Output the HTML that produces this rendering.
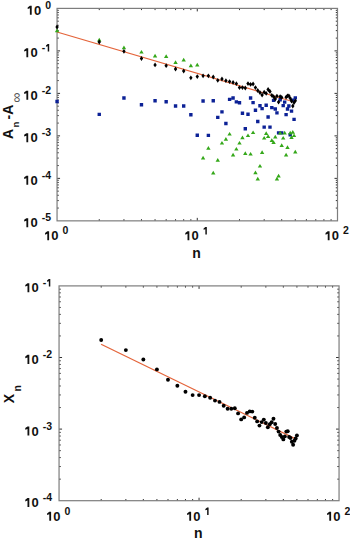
<!DOCTYPE html><html><head><meta charset="utf-8"><style>html,body{margin:0;padding:0;background:#fff}svg{display:block}</style></head><body><svg width="350" height="541" viewBox="0 0 350 541">
<style>.tl{font:bold 13px "Liberation Sans",sans-serif;fill:#111}.sp{font-size:10.5px}.al{font:bold 14px "Liberation Sans",sans-serif;fill:#111}</style>
<rect width="350" height="541" fill="#fff"/>
<path d="M99.26 220.85v-1.7M99.26 8.40v1.7M123.95 220.85v-1.7M123.95 8.40v1.7M141.47 220.85v-1.7M141.47 8.40v1.7M155.06 220.85v-1.7M155.06 8.40v1.7M166.17 220.85v-1.7M166.17 8.40v1.7M175.55 220.85v-1.7M175.55 8.40v1.7M183.69 220.85v-1.7M183.69 8.40v1.7M190.86 220.85v-1.7M190.86 8.40v1.7M197.27 220.85v-3.0M197.27 8.40v3.0M239.49 220.85v-1.7M239.49 8.40v1.7M264.18 220.85v-1.7M264.18 8.40v1.7M281.70 220.85v-1.7M281.70 8.40v1.7M295.29 220.85v-1.7M295.29 8.40v1.7M306.39 220.85v-1.7M306.39 8.40v1.7M315.78 220.85v-1.7M315.78 8.40v1.7M323.91 220.85v-1.7M323.91 8.40v1.7M331.08 220.85v-1.7M331.08 8.40v1.7M57.05 208.06h1.7M337.50 208.06h-1.7M57.05 200.58h1.7M337.50 200.58h-1.7M57.05 195.27h1.7M337.50 195.27h-1.7M57.05 191.15h1.7M337.50 191.15h-1.7M57.05 187.79h1.7M337.50 187.79h-1.7M57.05 184.94h1.7M337.50 184.94h-1.7M57.05 182.48h1.7M337.50 182.48h-1.7M57.05 180.30h1.7M337.50 180.30h-1.7M57.05 178.36h3.0M337.50 178.36h-3.0M57.05 165.57h1.7M337.50 165.57h-1.7M57.05 158.09h1.7M337.50 158.09h-1.7M57.05 152.78h1.7M337.50 152.78h-1.7M57.05 148.66h1.7M337.50 148.66h-1.7M57.05 145.30h1.7M337.50 145.30h-1.7M57.05 142.45h1.7M337.50 142.45h-1.7M57.05 139.99h1.7M337.50 139.99h-1.7M57.05 137.81h1.7M337.50 137.81h-1.7M57.05 135.87h3.0M337.50 135.87h-3.0M57.05 123.08h1.7M337.50 123.08h-1.7M57.05 115.60h1.7M337.50 115.60h-1.7M57.05 110.29h1.7M337.50 110.29h-1.7M57.05 106.17h1.7M337.50 106.17h-1.7M57.05 102.81h1.7M337.50 102.81h-1.7M57.05 99.96h1.7M337.50 99.96h-1.7M57.05 97.50h1.7M337.50 97.50h-1.7M57.05 95.32h1.7M337.50 95.32h-1.7M57.05 93.38h3.0M337.50 93.38h-3.0M57.05 80.59h1.7M337.50 80.59h-1.7M57.05 73.11h1.7M337.50 73.11h-1.7M57.05 67.80h1.7M337.50 67.80h-1.7M57.05 63.68h1.7M337.50 63.68h-1.7M57.05 60.32h1.7M337.50 60.32h-1.7M57.05 57.47h1.7M337.50 57.47h-1.7M57.05 55.01h1.7M337.50 55.01h-1.7M57.05 52.83h1.7M337.50 52.83h-1.7M57.05 50.89h3.0M337.50 50.89h-3.0M57.05 38.10h1.7M337.50 38.10h-1.7M57.05 30.62h1.7M337.50 30.62h-1.7M57.05 25.31h1.7M337.50 25.31h-1.7M57.05 21.19h1.7M337.50 21.19h-1.7M57.05 17.83h1.7M337.50 17.83h-1.7M57.05 14.98h1.7M337.50 14.98h-1.7M57.05 12.52h1.7M337.50 12.52h-1.7M57.05 10.34h1.7M337.50 10.34h-1.7" stroke="#333" stroke-width="1.0" fill="none"/>
<rect x="57.05" y="8.4" width="280.45" height="212.45" fill="none" stroke="#7d7d7d" stroke-width="1.2"/>
<path d="M57.0 32.0L290.00 100.73" stroke="#e4643a" stroke-width="1.25" fill="none"/>
<path d="M55.35 99.80h3.4v3.4h-3.4zM97.56 112.70h3.4v3.4h-3.4zM122.25 96.30h3.4v3.4h-3.4zM139.77 103.00h3.4v3.4h-3.4zM153.36 99.10h3.4v3.4h-3.4zM164.47 100.00h3.4v3.4h-3.4zM173.85 104.30h3.4v3.4h-3.4zM181.99 104.30h3.4v3.4h-3.4zM189.16 113.00h3.4v3.4h-3.4zM195.57 133.60h3.4v3.4h-3.4zM201.38 99.30h3.4v3.4h-3.4zM206.68 133.70h3.4v3.4h-3.4zM211.55 99.00h3.4v3.4h-3.4zM216.07 115.70h3.4v3.4h-3.4zM220.27 110.20h3.4v3.4h-3.4zM224.20 121.80h3.4v3.4h-3.4zM227.89 97.70h3.4v3.4h-3.4zM231.37 96.30h3.4v3.4h-3.4zM234.66 100.20h3.4v3.4h-3.4zM237.79 101.10h3.4v3.4h-3.4zM240.76 111.60h3.4v3.4h-3.4zM243.59 127.10h3.4v3.4h-3.4zM246.30 112.50h3.4v3.4h-3.4zM248.89 96.30h3.4v3.4h-3.4zM251.38 100.90h3.4v3.4h-3.4zM253.76 108.50h3.4v3.4h-3.4zM256.06 119.80h3.4v3.4h-3.4zM258.28 104.00h3.4v3.4h-3.4zM260.41 106.90h3.4v3.4h-3.4zM262.48 125.40h3.4v3.4h-3.4zM264.48 103.50h3.4v3.4h-3.4zM266.41 115.30h3.4v3.4h-3.4zM268.28 125.40h3.4v3.4h-3.4zM270.10 105.90h3.4v3.4h-3.4zM271.87 98.70h3.4v3.4h-3.4zM273.58 107.30h3.4v3.4h-3.4zM275.25 111.20h3.4v3.4h-3.4zM276.88 131.20h3.4v3.4h-3.4zM278.46 98.10h3.4v3.4h-3.4zM280.00 131.20h3.4v3.4h-3.4zM281.50 103.90h3.4v3.4h-3.4zM282.97 100.40h3.4v3.4h-3.4zM284.40 112.90h3.4v3.4h-3.4zM285.80 107.30h3.4v3.4h-3.4zM287.17 104.30h3.4v3.4h-3.4zM288.51 133.10h3.4v3.4h-3.4zM289.82 109.40h3.4v3.4h-3.4zM291.10 98.40h3.4v3.4h-3.4zM292.36 117.70h3.4v3.4h-3.4zM293.59 96.20h3.4v3.4h-3.4z" fill="#0c2196"/>
<path d="M57.05 28.50l2.2 3.7h-4.4zM99.26 37.70l2.2 3.7h-4.4zM123.95 45.60l2.2 3.7h-4.4zM141.47 49.90l2.2 3.7h-4.4zM155.06 53.70l2.2 3.7h-4.4zM166.17 54.20l2.2 3.7h-4.4zM175.55 60.20l2.2 3.7h-4.4zM183.69 57.70l2.2 3.7h-4.4zM190.86 63.50l2.2 3.7h-4.4zM197.27 62.70l2.2 3.7h-4.4zM203.08 155.70l2.2 3.7h-4.4zM208.38 146.10l2.2 3.7h-4.4zM213.25 170.80l2.2 3.7h-4.4zM217.77 158.10l2.2 3.7h-4.4zM221.97 140.90l2.2 3.7h-4.4zM225.90 137.00l2.2 3.7h-4.4zM229.59 131.90l2.2 3.7h-4.4zM233.07 152.70l2.2 3.7h-4.4zM236.36 146.90l2.2 3.7h-4.4zM239.49 140.90l2.2 3.7h-4.4zM242.46 135.60l2.2 3.7h-4.4zM245.29 151.20l2.2 3.7h-4.4zM248.00 133.40l2.2 3.7h-4.4zM250.59 151.90l2.2 3.7h-4.4zM253.08 130.40l2.2 3.7h-4.4zM255.46 170.50l2.2 3.7h-4.4zM257.76 176.70l2.2 3.7h-4.4zM259.98 163.90l2.2 3.7h-4.4zM262.11 150.20l2.2 3.7h-4.4zM264.18 135.90l2.2 3.7h-4.4zM266.18 131.30l2.2 3.7h-4.4zM268.11 134.20l2.2 3.7h-4.4zM271.80 138.20l2.2 3.7h-4.4zM273.57 140.20l2.2 3.7h-4.4zM275.28 134.80l2.2 3.7h-4.4zM276.95 176.70l2.2 3.7h-4.4zM278.58 173.80l2.2 3.7h-4.4zM280.16 130.80l2.2 3.7h-4.4zM281.70 143.30l2.2 3.7h-4.4zM283.20 135.90l2.2 3.7h-4.4zM284.67 130.80l2.2 3.7h-4.4zM286.10 152.80l2.2 3.7h-4.4zM287.50 145.30l2.2 3.7h-4.4zM290.21 130.80l2.2 3.7h-4.4zM291.52 135.30l2.2 3.7h-4.4zM292.80 130.00l2.2 3.7h-4.4zM294.06 133.40l2.2 3.7h-4.4zM295.29 149.80l2.2 3.7h-4.4z" fill="#35a81a"/>
<path d="M57.05 24.60l1.7 2.4l-1.7 2.4l-1.7 -2.4zM99.26 39.60l1.7 2.4l-1.7 2.4l-1.7 -2.4zM123.95 48.90l1.7 2.4l-1.7 2.4l-1.7 -2.4zM141.47 56.10l1.7 2.4l-1.7 2.4l-1.7 -2.4zM155.06 62.50l1.7 2.4l-1.7 2.4l-1.7 -2.4zM166.17 63.30l1.7 2.4l-1.7 2.4l-1.7 -2.4zM175.55 66.60l1.7 2.4l-1.7 2.4l-1.7 -2.4zM183.69 68.60l1.7 2.4l-1.7 2.4l-1.7 -2.4zM190.86 75.40l1.7 2.4l-1.7 2.4l-1.7 -2.4zM197.27 74.20l1.7 2.4l-1.7 2.4l-1.7 -2.4zM203.08 73.40l1.7 2.4l-1.7 2.4l-1.7 -2.4zM208.38 73.40l1.7 2.4l-1.7 2.4l-1.7 -2.4zM213.25 74.60l1.7 2.4l-1.7 2.4l-1.7 -2.4zM217.77 77.90l1.7 2.4l-1.7 2.4l-1.7 -2.4zM221.97 76.60l1.7 2.4l-1.7 2.4l-1.7 -2.4zM225.90 78.30l1.7 2.4l-1.7 2.4l-1.7 -2.4zM229.59 79.20l1.7 2.4l-1.7 2.4l-1.7 -2.4zM233.07 80.00l1.7 2.4l-1.7 2.4l-1.7 -2.4zM236.36 81.30l1.7 2.4l-1.7 2.4l-1.7 -2.4zM239.49 85.20l1.7 2.4l-1.7 2.4l-1.7 -2.4zM242.46 85.20l1.7 2.4l-1.7 2.4l-1.7 -2.4zM245.29 85.60l1.7 2.4l-1.7 2.4l-1.7 -2.4zM248.00 81.20l1.7 2.4l-1.7 2.4l-1.7 -2.4zM250.59 82.00l1.7 2.4l-1.7 2.4l-1.7 -2.4zM253.08 81.60l1.7 2.4l-1.7 2.4l-1.7 -2.4zM255.46 85.20l1.7 2.4l-1.7 2.4l-1.7 -2.4zM257.76 88.10l1.7 2.4l-1.7 2.4l-1.7 -2.4zM259.98 90.20l1.7 2.4l-1.7 2.4l-1.7 -2.4zM262.11 92.60l1.7 2.4l-1.7 2.4l-1.7 -2.4zM264.18 89.80l1.7 2.4l-1.7 2.4l-1.7 -2.4zM266.18 91.00l1.7 2.4l-1.7 2.4l-1.7 -2.4zM268.11 87.10l1.7 2.4l-1.7 2.4l-1.7 -2.4zM269.98 89.10l1.7 2.4l-1.7 2.4l-1.7 -2.4zM271.80 92.90l1.7 2.4l-1.7 2.4l-1.7 -2.4zM273.57 94.30l1.7 2.4l-1.7 2.4l-1.7 -2.4zM275.28 96.60l1.7 2.4l-1.7 2.4l-1.7 -2.4zM276.95 93.70l1.7 2.4l-1.7 2.4l-1.7 -2.4zM278.58 99.70l1.7 2.4l-1.7 2.4l-1.7 -2.4zM280.16 94.20l1.7 2.4l-1.7 2.4l-1.7 -2.4zM281.70 95.00l1.7 2.4l-1.7 2.4l-1.7 -2.4zM286.10 94.80l1.7 2.4l-1.7 2.4l-1.7 -2.4zM287.50 93.40l1.7 2.4l-1.7 2.4l-1.7 -2.4zM288.87 93.40l1.7 2.4l-1.7 2.4l-1.7 -2.4zM290.21 95.80l1.7 2.4l-1.7 2.4l-1.7 -2.4zM291.52 98.60l1.7 2.4l-1.7 2.4l-1.7 -2.4zM292.80 103.60l1.7 2.4l-1.7 2.4l-1.7 -2.4zM294.06 100.20l1.7 2.4l-1.7 2.4l-1.7 -2.4zM295.29 98.40l1.7 2.4l-1.7 2.4l-1.7 -2.4z" fill="#000"/>
<text class="tl" x="30.44" y="227.25">0</text>
<text class="tl sp" x="41.67" y="221.35">-5</text>
<text class="tl" x="30.44" y="184.76">0</text>
<text class="tl sp" x="41.67" y="178.86">-4</text>
<text class="tl" x="30.44" y="142.27">0</text>
<text class="tl sp" x="41.67" y="136.37">-3</text>
<text class="tl" x="30.44" y="99.78">0</text>
<text class="tl sp" x="41.67" y="93.88">-2</text>
<text class="tl" x="30.44" y="57.29">0</text>
<text class="tl sp" x="41.67" y="51.39">-</text>
<text class="tl" x="33.93" y="14.80">0</text>
<text class="tl sp" x="45.16" y="8.90">0</text>
<text class="tl" x="51.33" y="240.35">0</text>
<text class="tl sp" x="62.56" y="234.45">0</text>
<text class="tl" x="191.56" y="240.35">0</text>
<text class="tl" x="331.78" y="240.35">0</text>
<text class="tl sp" x="343.01" y="234.45">2</text>
<text class="al" x="196.47" y="257.8" text-anchor="middle" font-size="13.2px">n</text>
<g transform="translate(12.5,139) rotate(-90)"><text class="al" x="0" y="0">A<tspan font-size="9.5px" dx="1.4" dy="6.6">n</tspan><tspan dx="2.2" dy="-6.6">-A</tspan><tspan font-size="14px" font-weight="normal" fill="#555" dx="1.9" dy="8.4">∞</tspan></text></g>
<path d="M101.19 500.70v-1.7M101.19 285.90v1.7M125.85 500.70v-1.7M125.85 285.90v1.7M143.34 500.70v-1.7M143.34 285.90v1.7M156.91 500.70v-1.7M156.91 285.90v1.7M167.99 500.70v-1.7M167.99 285.90v1.7M177.36 500.70v-1.7M177.36 285.90v1.7M185.48 500.70v-1.7M185.48 285.90v1.7M192.64 500.70v-1.7M192.64 285.90v1.7M199.05 500.70v-3.0M199.05 285.90v3.0M241.19 500.70v-1.7M241.19 285.90v1.7M265.85 500.70v-1.7M265.85 285.90v1.7M283.34 500.70v-1.7M283.34 285.90v1.7M296.91 500.70v-1.7M296.91 285.90v1.7M307.99 500.70v-1.7M307.99 285.90v1.7M317.36 500.70v-1.7M317.36 285.90v1.7M325.48 500.70v-1.7M325.48 285.90v1.7M332.64 500.70v-1.7M332.64 285.90v1.7M59.05 479.15h1.7M339.05 479.15h-1.7M59.05 466.54h1.7M339.05 466.54h-1.7M59.05 457.59h1.7M339.05 457.59h-1.7M59.05 450.65h1.7M339.05 450.65h-1.7M59.05 444.98h1.7M339.05 444.98h-1.7M59.05 440.19h1.7M339.05 440.19h-1.7M59.05 436.04h1.7M339.05 436.04h-1.7M59.05 432.38h1.7M339.05 432.38h-1.7M59.05 429.10h3.0M339.05 429.10h-3.0M59.05 407.55h1.7M339.05 407.55h-1.7M59.05 394.94h1.7M339.05 394.94h-1.7M59.05 385.99h1.7M339.05 385.99h-1.7M59.05 379.05h1.7M339.05 379.05h-1.7M59.05 373.38h1.7M339.05 373.38h-1.7M59.05 368.59h1.7M339.05 368.59h-1.7M59.05 364.44h1.7M339.05 364.44h-1.7M59.05 360.78h1.7M339.05 360.78h-1.7M59.05 357.50h3.0M339.05 357.50h-3.0M59.05 335.95h1.7M339.05 335.95h-1.7M59.05 323.34h1.7M339.05 323.34h-1.7M59.05 314.39h1.7M339.05 314.39h-1.7M59.05 307.45h1.7M339.05 307.45h-1.7M59.05 301.78h1.7M339.05 301.78h-1.7M59.05 296.99h1.7M339.05 296.99h-1.7M59.05 292.84h1.7M339.05 292.84h-1.7M59.05 289.18h1.7M339.05 289.18h-1.7" stroke="#333" stroke-width="1.0" fill="none"/>
<rect x="59.05" y="285.9" width="280.00" height="214.80" fill="none" stroke="#7d7d7d" stroke-width="1.2"/>
<path d="M101.1 344.2L294.50 438.39" stroke="#e4643a" stroke-width="1.25" fill="none"/>
<g fill="#000"><circle cx="101.19" cy="340.00" r="1.95"/><circle cx="125.85" cy="350.10" r="1.95"/><circle cx="143.34" cy="359.50" r="1.95"/><circle cx="156.91" cy="369.40" r="1.95"/><circle cx="167.99" cy="379.70" r="1.95"/><circle cx="177.36" cy="385.70" r="1.95"/><circle cx="185.48" cy="391.70" r="1.95"/><circle cx="192.64" cy="395.10" r="1.95"/><circle cx="199.05" cy="395.10" r="1.95"/><circle cx="204.84" cy="396.20" r="1.95"/><circle cx="210.14" cy="397.70" r="1.95"/><circle cx="215.00" cy="400.60" r="1.95"/><circle cx="219.51" cy="401.90" r="1.95"/><circle cx="223.70" cy="405.70" r="1.95"/><circle cx="227.63" cy="408.80" r="1.95"/><circle cx="231.31" cy="408.80" r="1.95"/><circle cx="234.79" cy="408.30" r="1.95"/><circle cx="238.08" cy="413.40" r="1.95"/><circle cx="241.19" cy="419.40" r="1.95"/><circle cx="244.16" cy="417.40" r="1.95"/><circle cx="246.99" cy="412.90" r="1.95"/><circle cx="249.69" cy="411.40" r="1.95"/><circle cx="252.28" cy="411.60" r="1.95"/><circle cx="254.76" cy="417.80" r="1.95"/><circle cx="257.15" cy="421.40" r="1.95"/><circle cx="259.44" cy="425.60" r="1.95"/><circle cx="261.65" cy="422.10" r="1.95"/><circle cx="263.79" cy="419.60" r="1.95"/><circle cx="265.85" cy="423.00" r="1.95"/><circle cx="267.84" cy="427.30" r="1.95"/><circle cx="269.77" cy="424.20" r="1.95"/><circle cx="271.64" cy="422.30" r="1.95"/><circle cx="273.46" cy="418.80" r="1.95"/><circle cx="275.22" cy="424.00" r="1.95"/><circle cx="276.93" cy="428.00" r="1.95"/><circle cx="278.60" cy="431.60" r="1.95"/><circle cx="280.22" cy="435.00" r="1.95"/><circle cx="281.80" cy="437.00" r="1.95"/><circle cx="283.34" cy="439.40" r="1.95"/><circle cx="284.84" cy="436.40" r="1.95"/><circle cx="286.30" cy="431.60" r="1.95"/><circle cx="287.74" cy="431.30" r="1.95"/><circle cx="289.13" cy="437.00" r="1.95"/><circle cx="290.50" cy="438.00" r="1.95"/><circle cx="291.84" cy="441.80" r="1.95"/><circle cx="293.14" cy="444.80" r="1.95"/><circle cx="294.42" cy="440.70" r="1.95"/><circle cx="295.68" cy="438.50" r="1.95"/><circle cx="296.91" cy="435.40" r="1.95"/></g>
<text class="tl" x="31.54" y="507.10">0</text>
<text class="tl sp" x="42.77" y="501.20">-4</text>
<text class="tl" x="31.54" y="435.50">0</text>
<text class="tl sp" x="42.77" y="429.60">-3</text>
<text class="tl" x="31.54" y="363.90">0</text>
<text class="tl sp" x="42.77" y="358.00">-2</text>
<text class="tl" x="31.54" y="292.30">0</text>
<text class="tl sp" x="42.77" y="286.40">-</text>
<text class="tl" x="53.33" y="520.80">0</text>
<text class="tl sp" x="64.56" y="514.90">0</text>
<text class="tl" x="193.33" y="520.80">0</text>
<text class="tl" x="333.33" y="520.80">0</text>
<text class="tl sp" x="344.56" y="514.90">2</text>
<text class="al" x="198.25" y="537.9" text-anchor="middle" font-size="13.2px">n</text>
<g transform="translate(13.5,403.2) rotate(-90)"><text class="al" x="0" y="0">X<tspan font-size="10.5px" dx="2.4" dy="7.4">n</tspan></text></g>
<path d="M26.39 218.15H28.21V227.25H26.39V220.75L24.18 221.53V219.84ZM26.39 175.66H28.21V184.76H26.39V178.26L24.18 179.04V177.35ZM26.39 133.17H28.21V142.27H26.39V135.77L24.18 136.55V134.86ZM26.39 90.68H28.21V99.78H26.39V93.28L24.18 94.06V92.37ZM26.39 48.19H28.21V57.29H26.39V50.79L24.18 51.57V49.88ZM47.73 44.04H49.20V51.39H47.73V46.14L45.95 46.77V45.40ZM29.89 5.70H31.71V14.80H29.89V8.30L27.68 9.08V7.39ZM47.29 231.25H49.11V240.35H47.29V233.85L45.08 234.63V232.94ZM187.51 231.25H189.33V240.35H187.51V233.85L185.30 234.63V232.94ZM205.36 227.10H206.83V234.45H205.36V229.20L203.57 229.83V228.46ZM327.74 231.25H329.56V240.35H327.74V233.85L325.53 234.63V232.94ZM27.49 498.00H29.31V507.10H27.49V500.60L25.28 501.38V499.69ZM27.49 426.40H29.31V435.50H27.49V429.00L25.28 429.78V428.09ZM27.49 354.80H29.31V363.90H27.49V357.40L25.28 358.18V356.49ZM27.49 283.20H29.31V292.30H27.49V285.80L25.28 286.58V284.89ZM48.83 279.05H50.30V286.40H48.83V281.15L47.05 281.78V280.41ZM49.29 511.70H51.11V520.80H49.29V514.30L47.08 515.08V513.39ZM189.29 511.70H191.11V520.80H189.29V514.30L187.08 515.08V513.39ZM207.13 507.55H208.60V514.90H207.13V509.65L205.35 510.28V508.91ZM329.29 511.70H331.11V520.80H329.29V514.30L327.08 515.08V513.39Z" fill="#111"/>
</svg></body></html>
